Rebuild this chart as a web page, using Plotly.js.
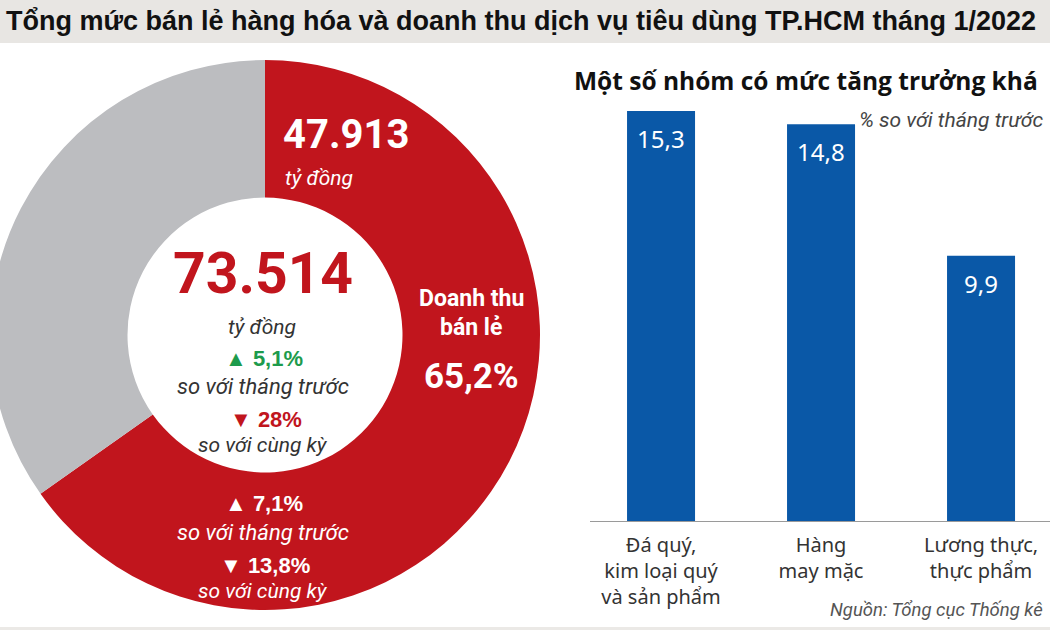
<!DOCTYPE html>
<html>
<head>
<meta charset="utf-8">
<script src="https://cdn.plot.ly/plotly-3.0.1.min.js"></script>
<style>
html,body{margin:0;padding:0;overflow:hidden;background:#fff;width:1050px;height:630px;}
#chart{position:absolute;left:-20px;top:0;width:1070px;height:630px;}
</style>
</head>
<body>
<div id="chart"></div>
<script>
// ---- data ----
const pieLabels = ['Doanh thu bán lẻ', 'Doanh thu dịch vụ'];
const pieValues = [65.2, 34.8];
const retailValue = '47.913';
const totalValue = '73.514';
const totalMoM = '5,1%';
const totalYoY = '28%';
const retailMoM = '7,1%';
const retailYoY = '13,8%';
const barCategories = ['Đá quý,<br>kim loại quý<br>và sản phẩm', 'Hàng<br>may mặc', 'Lương thực,<br>thực phẩm'];
const barValues = [15.3, 14.8, 9.9];

// ---- layout helpers (window pixels -> paper) ----
const W = 1070, H = 630, O = 20;
const px = x => (x + O) / W;
const py = y => 1 - y / H;

const RED = '#c1151d', GREY = '#bcbdc0', BLUE = '#0a58a7', GREEN = '#1d9b4c';
const NARROW = 'Roboto, "DejaVu Sans Condensed", sans-serif';
const ITAL = 'Roboto, "Liberation Sans", sans-serif';
const fmt = v => String(v).replace('.', ',');

const pie = {
  type: 'pie', labels: pieLabels, values: pieValues, sort: false,
  direction: 'clockwise', rotation: 0, hole: 0.5,
  marker: {colors: [RED, GREY], line: {width: 0}},
  textinfo: 'none', hoverinfo: 'none', showlegend: false,
  domain: {x: [px(-10), px(540)], y: [py(610), py(60)]}
};

const bars = {
  type: 'bar', x: barCategories, y: barValues, width: 0.425,
  marker: {color: BLUE, line: {width: 0}}, hoverinfo: 'none', showlegend: false,
  xaxis: 'x', yaxis: 'y'
};

function ann(text, x, y, font, extra) {
  return Object.assign({text, x: px(x), y: py(y), xref: 'paper', yref: 'paper',
    xanchor: 'center', yanchor: 'middle', showarrow: false, font}, extra || {});
}

const annotations = [
  ann('Tổng mức bán lẻ hàng hóa và doanh thu dịch vụ tiêu dùng TP.HCM tháng 1/2022', 4, 21,
      {family: '"Liberation Sans", Arial, sans-serif', size: 27, weight: 700, color: '#111'}, {xanchor: 'left'}),
  ann(retailValue, 281, 134, {family: NARROW, size: 40, weight: 700, color: '#fff'}, {xanchor: 'left'}),
  ann('tỷ đồng', 283, 178, {family: ITAL, size: 21, style: 'italic', color: '#fff'}, {xanchor: 'left'}),
  ann(totalValue, 263, 273, {family: NARROW, size: 57, weight: 700, color: RED}),
  ann('tỷ đồng', 262, 327, {family: ITAL, size: 21, style: 'italic', color: '#333'}),
  ann('▲ ' + totalMoM, 264, 358, {family: '"Liberation Sans", sans-serif', size: 22, weight: 700, color: GREEN}),
  ann('so với tháng trước', 263, 386, {family: ITAL, size: 22, style: 'italic', color: '#333'}),
  ann('▼ ' + totalYoY, 266, 419, {family: '"Liberation Sans", sans-serif', size: 22, weight: 700, color: RED}),
  ann('so với cùng kỳ', 263, 445, {family: ITAL, size: 21, style: 'italic', color: '#333'}),
  ann('▲ ' + retailMoM, 264, 503, {family: '"Liberation Sans", sans-serif', size: 22, weight: 700, color: '#fff'}),
  ann('so với tháng trước', 263, 532, {family: ITAL, size: 22, style: 'italic', color: '#fff'}),
  ann('▼ ' + retailYoY, 265, 565, {family: '"Liberation Sans", sans-serif', size: 22, weight: 700, color: '#fff'}),
  ann('so với cùng kỳ', 263, 591, {family: ITAL, size: 21, style: 'italic', color: '#fff'}),
  ann('Doanh thu', 471, 298, {family: NARROW, size: 23, weight: 700, color: '#fff'}),
  ann('bán lẻ', 471, 327, {family: NARROW, size: 23, weight: 700, color: '#fff'}),
  ann(fmt(pieValues[0]) + '%', 471, 376, {family: NARROW, size: 35, weight: 700, color: '#fff'}),
  ann('Một số nhóm có mức tăng trưởng khá', 572, 80,
      {family: '"Open Sans", sans-serif', size: 24.5, weight: 700, color: '#111'}, {xanchor: 'left'}),
  ann('% so với tháng trước', 1045, 120, {family: ITAL, size: 21, style: 'italic', color: '#444'}, {xanchor: 'right'}),
  ann('Nguồn: Tổng cục Thống kê', 1045, 610, {family: ITAL, size: 18.5, style: 'italic', color: '#555'}, {xanchor: 'right'})
];

barCategories.forEach((c, i) => {
  annotations.push({text: fmt(barValues[i]), x: c, y: barValues[i], xref: 'x', yref: 'y',
    xanchor: 'center', yanchor: 'top', yshift: -9, showarrow: false,
    font: {family: '"Noto Sans", sans-serif', size: 24, color: '#fff'}});
});

const layout = {
  width: W, height: H, margin: {l: 0, r: 0, t: 0, b: 0},
  paper_bgcolor: '#fff', plot_bgcolor: 'rgba(0,0,0,0)', showlegend: false,
  xaxis: {type: 'category', domain: [px(590), 1], range: [-0.444, 2.431],
    showline: true, linecolor: '#9a9a9a', linewidth: 1, showgrid: false, zeroline: false,
    ticks: '', ticklabelstandoff: 6,
    tickfont: {family: '"Noto Sans", sans-serif', size: 20, color: '#333'}, fixedrange: true},
  yaxis: {domain: [py(521), py(60)], range: [0, 17.2], visible: false, showgrid: false, zeroline: false},
  shapes: [
    {type: 'rect', xref: 'paper', yref: 'paper', x0: 0, x1: 1, y0: py(43), y1: 1,
     fillcolor: '#e8e6e3', line: {width: 0}, layer: 'below'},
    {type: 'rect', xref: 'paper', yref: 'paper', x0: 0, x1: 1, y0: 0, y1: py(627),
     fillcolor: '#ebe9e6', line: {width: 0}, layer: 'below'}
  ],
  annotations
};

Plotly.newPlot('chart', [pie, bars], layout, {staticPlot: true, displayModeBar: false});
</script>
</body>
</html>
